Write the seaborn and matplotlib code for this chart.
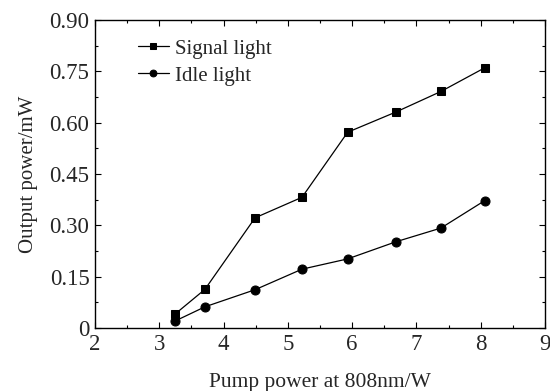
import numpy as np
import pandas as pd
import matplotlib
matplotlib.use("Agg")
import matplotlib.pyplot as plt
from matplotlib.ticker import MultipleLocator, FuncFormatter
import seaborn as sns

# pump power (W) and output power (mW)
pump = [3.24, 3.71, 4.49, 5.22, 5.93, 6.68, 7.38, 8.06]
signal = [0.04, 0.113, 0.322, 0.382, 0.572, 0.631, 0.691, 0.76]
idle = [0.02, 0.062, 0.112, 0.172, 0.202, 0.252, 0.292, 0.372]

sns.set_style("white")
plt.rcParams['font.family'] = ['Liberation Serif', 'DejaVu Serif']

fig = plt.figure(figsize=(5.5, 3.91), dpi=100)
ax = fig.add_axes([0.1727, 0.161, 0.8183, 0.788])

sns.lineplot(x=pump, y=signal, ax=ax, color="black", marker="s", markersize=6,
             linewidth=0.9, markeredgecolor="black", label="Signal light")
sns.lineplot(x=pump, y=idle, ax=ax, color="black", marker="o", markersize=6.5,
             linewidth=0.9, markeredgecolor="black", label="Idle light")

ax.set_xlim(2, 9)
ax.set_ylim(0, 0.9)
ax.xaxis.set_major_locator(MultipleLocator(1))
ax.xaxis.set_minor_locator(MultipleLocator(0.5))
ax.yaxis.set_major_locator(MultipleLocator(0.15))
ax.yaxis.set_minor_locator(MultipleLocator(0.075))
ax.yaxis.set_major_formatter(FuncFormatter(lambda v, p: "0" if abs(v) < 1e-9 else f"{v:.2f}"))

ax.tick_params(which="both", direction="in", top=True, right=True,
               bottom=True, left=True, width=0.8, color="black")
ax.tick_params(which="major", length=4.5, labelsize=16.5, pad=4)
ax.tick_params(which="minor", length=2.5)
for s in ax.spines.values():
    s.set_color("black")
    s.set_linewidth(1.0)

ax.set_xlabel("Pump power at 808nm/W", fontsize=15.5, labelpad=13)
ax.set_ylabel("Output power/mW", fontsize=15, labelpad=8)

leg = ax.legend(loc="upper left", bbox_to_anchor=(0.076, 0.965), frameon=False,
                fontsize=15, handlelength=1.5, handletextpad=0.3,
                labelspacing=0.35, borderaxespad=0, markerscale=0.75)

fig.savefig("out.png", dpi=100)
